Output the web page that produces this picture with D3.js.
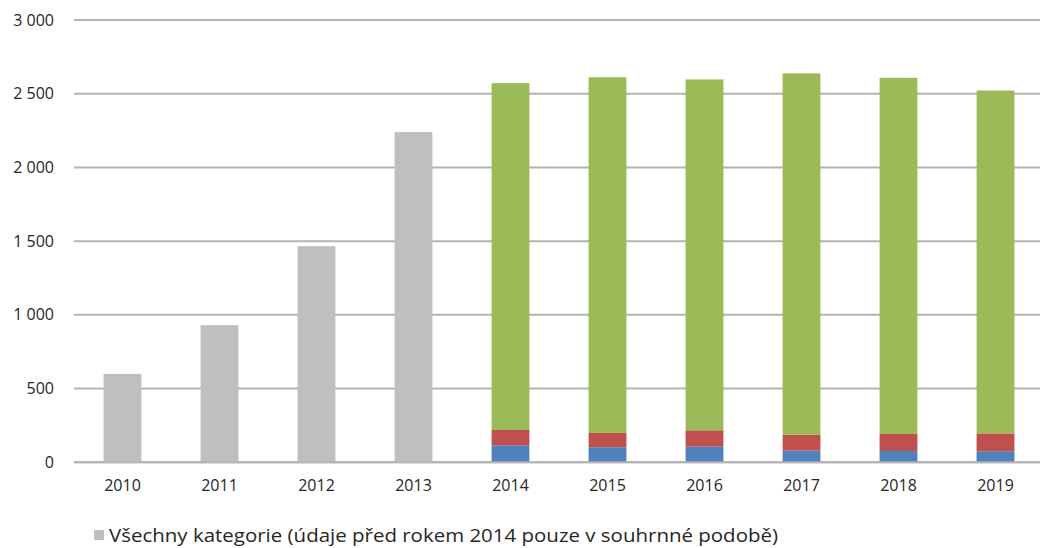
<!DOCTYPE html>
<html><head><meta charset="utf-8">
<script src="https://cdn.jsdelivr.net/npm/d3@7"></script>
<style>body{margin:0;background:#fff}svg{display:block}text{font-family:"Open Sans",Lato,sans-serif;fill:#262626}</style>
</head><body>
<svg id="c" width="1040" height="548"></svg>
<script>
const years = ["2010","2011","2012","2013","2014","2015","2016","2017","2018","2019"];
const totalAll = [600, 930, 1466, 2240, null, null, null, null, null, null];
const seriesBlue = [0, 0, 0, 0, 115, 102, 106, 79, 77, 75];
const seriesRed = [0, 0, 0, 0, 104, 97, 111, 108, 115, 121];
const seriesGreen = [0, 0, 0, 0, 2353, 2413, 2380, 2451, 2416, 2326];
const yTicks = [0, 500, 1000, 1500, 2000, 2500, 3000];
const legendLabel = "Všechny kategorie (údaje před rokem 2014 pouze v souhrnné podobě)";

const svg = d3.select("#c");
const x = d3.scaleBand().domain(years).range([74, 1044]).paddingInner(0.61).paddingOuter(0.305);
const y = d3.scaleLinear().domain([0, 3000]).range([462.3, 20]);
const fmt = v => d3.format(",")(v).replace(/,/g, " ");

// gridlines
svg.append("g").selectAll("line").data(yTicks).join("line")
  .attr("x1", 74).attr("x2", 1040)
  .attr("y1", d => y(d)).attr("y2", d => y(d))
  .attr("stroke", "#b3b3b3").attr("stroke-width", 2);

// y axis labels
const yAxis = d3.axisLeft(y).tickValues(yTicks).tickFormat(fmt).tickSize(0).tickPadding(0);
const ga = svg.append("g").attr("transform", "translate(54,0)").call(yAxis);
ga.select(".domain").remove();
ga.selectAll("text").attr("font-size", 16).attr("fill", "#262626").attr("font-family", "'Open Sans',Lato,sans-serif");

// x axis labels
const xAxis = d3.axisBottom(x).tickSize(0).tickPadding(0);
const gx = svg.append("g").attr("transform", "translate(0,480)").call(xAxis);
gx.select(".domain").remove();
gx.selectAll("text").attr("font-size", 16).attr("fill", "#262626").attr("font-family", "'Open Sans',Lato,sans-serif");

// gray bars
svg.append("g").selectAll("rect").data(years.map((d,i)=>({year:d, v:totalAll[i]})).filter(d=>d.v!=null))
  .join("rect")
  .attr("x", d => x(d.year)).attr("width", x.bandwidth())
  .attr("y", d => y(d.v)).attr("height", d => y(0) - y(d.v))
  .attr("fill", "#bfbfbf");

// stacked bars
const rows = years.map((d,i)=>({year:d, blue:seriesBlue[i], red:seriesRed[i], green:seriesGreen[i]}));
const stack = d3.stack().keys(["blue","red","green"])(rows);
const colors = {blue:"#4f81bd", red:"#c0504d", green:"#9bbb59"};
svg.append("g").selectAll("g").data(stack).join("g")
  .attr("fill", s => colors[s.key])
  .selectAll("rect").data(s => s.filter(d => d[1] > d[0])).join("rect")
  .attr("x", d => x(d.data.year)).attr("width", x.bandwidth())
  .attr("y", d => y(d[1])).attr("height", d => y(d[0]) - y(d[1]));

// baseline redraw
svg.append("line").attr("x1",74).attr("x2",1040).attr("y1",y(0)).attr("y2",y(0))
  .attr("stroke","#b3b3b3").attr("stroke-width",2);

// legend
svg.append("rect").attr("x", 94).attr("y", 530).attr("width", 10).attr("height", 10).attr("fill", "#bfbfbf");
svg.append("text").attr("x", 109).attr("y", 542).attr("font-size", 18)
  .attr("textLength", 669).attr("lengthAdjust", "spacingAndGlyphs").text(legendLabel);
</script>
</body></html>
